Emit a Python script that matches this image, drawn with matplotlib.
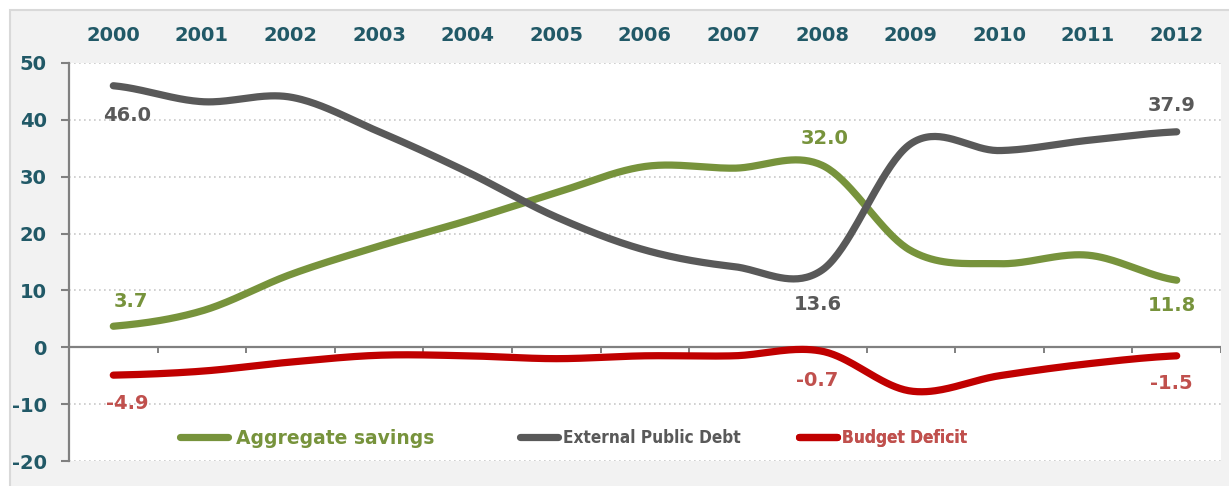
import numpy as np
import matplotlib
matplotlib.use("Agg")
import matplotlib.pyplot as plt
from matplotlib.patches import Rectangle
from matplotlib.lines import Line2D
from matplotlib.font_manager import FontProperties, findfont

years = ["2000", "2001", "2002", "2003", "2004", "2005", "2006",
         "2007", "2008", "2009", "2010", "2011", "2012"]
savings = [3.7, 6.4, 12.8, 17.8, 22.3, 27.2, 31.8, 31.5, 32.0, 17.0, 14.7, 16.2, 11.8]
ext_debt = [46.0, 43.2, 44.0, 37.9, 30.8, 22.9, 17.1, 14.2, 13.6, 35.8, 34.6, 36.4, 37.9]
deficit = [-4.9, -4.2, -2.6, -1.4, -1.5, -2.0, -1.5, -1.5, -0.7, -7.7, -5.0, -2.9, -1.5]
series_names = ["Aggregate savings", "External Public Debt", "Budget Deficit"]

# label info: (series index, point index, offset px x, offset px y)
labels = [
    (0, 0, 18, 25), (0, 8, 2, 27), (0, 12, -5, -25),
    (1, 0, 14, -30), (1, 8, -4, -35), (1, 12, -5, 26),
    (2, 0, 14, -28), (2, 8, -5, -29), (2, 12, -5, -28),
]

line_colors = ["#77933C", "#595959", "#C00000"]
text_colors = ["#77933C", "#595959", "#C0504D"]
teal = "#215967"
axis_gray = "#808080"


def smooth(y, n=40):
    """Catmull-Rom style smoothing (like Excel smoothed lines)."""
    y = np.asarray(y, float)
    x = np.arange(len(y), dtype=float)
    m = np.zeros_like(y)
    m[1:-1] = (y[2:] - y[:-2]) / 2.0
    m[0] = (y[1] - y[0]) / 2.0
    m[-1] = (y[-1] - y[-2]) / 2.0
    xs, ys = [], []
    for i in range(len(y) - 1):
        t = np.linspace(0, 1, n, endpoint=(i == len(y) - 2))
        h00 = 2 * t**3 - 3 * t**2 + 1
        h10 = t**3 - 2 * t**2 + t
        h01 = -2 * t**3 + 3 * t**2
        h11 = t**3 - t**2
        ys.append(h00 * y[i] + h10 * m[i] + h01 * y[i + 1] + h11 * m[i + 1])
        xs.append(x[i] + t)
    return np.concatenate(xs), np.concatenate(ys)


W, H = 1229, 486
fig = plt.figure(figsize=(W / 100, H / 100), dpi=100)
fig.patch.set_facecolor("white")
fig.patches.append(Rectangle((10 / W, -0.1), 1.2, 1 - 10 / H + 0.1,
                             transform=fig.transFigure, facecolor="#F2F2F2",
                             edgecolor="#D9D9D9", linewidth=1.5, zorder=-10))

AX_L, AX_R, AX_T, AX_B = 69, 1221, 63, 461
ax = fig.add_axes([AX_L / W, (H - AX_B) / H, (AX_R - AX_L) / W, (AX_B - AX_T) / H])
ax.set_facecolor("white")
n = len(years)
ax.set_xlim(-0.5, n - 0.5)
ax.set_ylim(-20, 50)

# gridlines
yt = np.arange(-20, 51, 10)
for v in yt:
    if v != 0:
        ax.axhline(v, color="#C8C8C8", lw=1.2, ls=(0, (1, 2)), zorder=1)
ax.axhline(0, color=axis_gray, lw=1.6, zorder=2)
bounds = np.arange(0.5, n, 1.0)
ax.vlines(bounds, -0.95, 0, color=axis_gray, lw=1.4, zorder=2)

# spines
for s in ["top", "right", "bottom"]:
    ax.spines[s].set_visible(False)
ax.spines["left"].set_color(axis_gray)
ax.spines["left"].set_linewidth(1.6)

ax.set_yticks(yt)
ax.set_yticklabels([str(v) for v in yt])
ax.tick_params(axis="y", length=6, width=1.5, color=axis_gray, pad=10,
               labelsize=14, labelcolor=teal)
for t in ax.get_yticklabels():
    t.set_fontweight("bold")

ax.xaxis.tick_top()
ax.set_xticks(np.arange(n))
ax.set_xticklabels(years)
ax.tick_params(axis="x", length=0, pad=13, labelsize=14, labelcolor=teal)
for t in ax.get_xticklabels():
    t.set_fontweight("bold")

data = [savings, ext_debt, deficit]
for i, d in enumerate(data):
    xs, ys = smooth(d)
    ax.plot(xs, ys, color=line_colors[i], lw=5.2, solid_capstyle="round",
            zorder=3 + i)

for si, pi, dx, dy in labels:
    v = data[si][pi]
    ax.annotate(f"{v:.1f}", (pi, v), xytext=(dx * 0.72, dy * 0.72),
                textcoords="offset points", ha="center", va="center",
                fontsize=14, fontweight="bold", color=text_colors[si], zorder=10)

# legends (one per series, positioned like the reference)
cond = FontProperties(family="DejaVu Sans", weight="bold", stretch="condensed", size=14)
cond_ok = "Condensed" in findfont(cond)
narrow = ({"family": "DejaVu Sans", "size": 12.3, "weight": "bold",
           "stretch": "condensed"} if cond_ok else
          {"family": "Liberation Sans", "size": 13, "weight": "bold"})
leg_y_px = 438
leg_specs = [  # (handle start px, handle length, props, textpad)
    (179.5, 2.6, {"family": "DejaVu Sans", "size": 13.5, "weight": "bold"}, 0.4),
    (519.5, 2.25, narrow, 0.3),
    (798.5, 2.25, narrow, 0.3),
]
for i, (hx, hl, props, tp) in enumerate(leg_specs):
    h = Line2D([0], [0], color=line_colors[i], lw=5.2, solid_capstyle="round")
    lg = ax.legend([h], [series_names[i]], loc="center left",
                   bbox_to_anchor=((hx - AX_L) / (AX_R - AX_L),
                                   (AX_B - leg_y_px) / (AX_B - AX_T)),
                   frameon=False, borderpad=0, borderaxespad=0,
                   handlelength=hl, handletextpad=tp,
                   prop=props)
    lg.get_texts()[0].set_color(text_colors[i])
    ax.add_artist(lg)

fig.savefig("out.png", dpi=100, facecolor=fig.get_facecolor())
